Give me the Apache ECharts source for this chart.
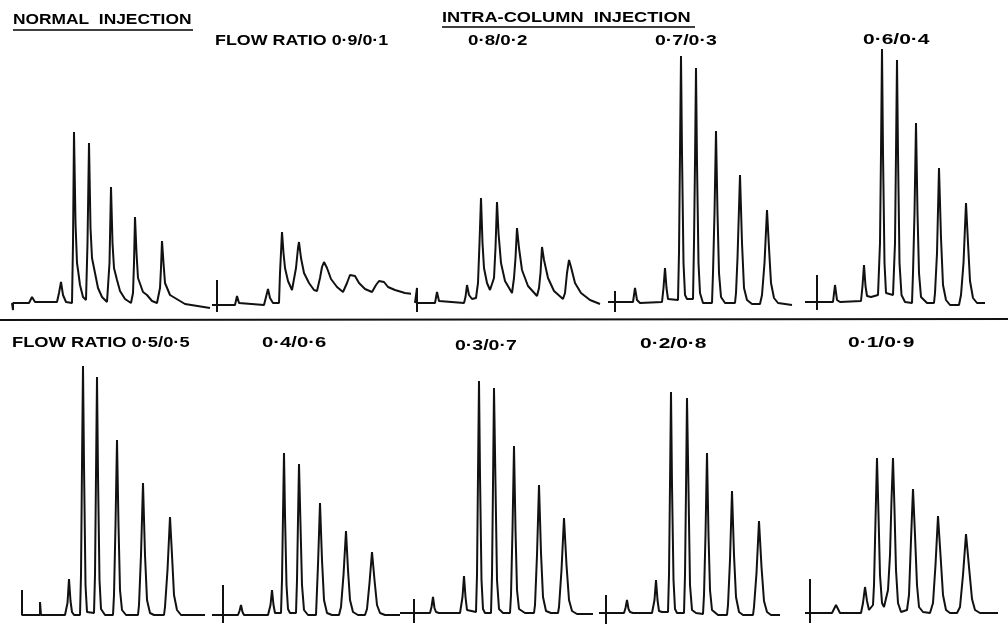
<!DOCTYPE html>
<html>
<head>
<meta charset="utf-8">
<title>Normal vs intra-column injection</title>
<script src="https://cdn.jsdelivr.net/npm/echarts@6/dist/echarts.min.js"></script>
<style>
  html, body { margin: 0; padding: 0; background: #fff; }
  #chart { width: 1008px; height: 625px; }
</style>
</head>
<body>
<div id="chart"></div>
<script>
// chromatogram traces, [time, detector signal]
// time = chart-paper units from the left of each panel, signal = height above baseline
var traceNormal = [[2,0],[3,0],[3,-7],[3,0],[19,0],[22,6],[25,1],[47,1],[49,10],[51,21],[53,8],[56,1],[62,0],[63,60],[64,171],[65.5,80],[67,40],[68,33],[70,18],[73,6],[76,3],[77.5,60],[79,160],[80.5,75],[82,45],[85,30],[88,15],[92,6],[97,1],[99.5,40],[101,116],[102.5,60],[104,35],[107,23],[110,12],[115,4],[121,0],[123,10],[124,40],[125,86],[126.5,50],[128,25],[133,11],[137,8],[142,2],[147,0],[150,15],[151,35],[152,62],[153.5,40],[155,20],[160,8],[165,5],[175,-1],[200,-5]];
var trace91 = [[2,-2],[7,-2],[7,23],[7,-9],[7,-2],[25,-2],[27,7],[29,0],[31,-2],[54,-2],[56,0],[58,14],[60,5],[63,0],[69,0],[70,30],[72,71],[73.5,50],[75,35],[78,22],[82,13],[86,35],[88,55],[89,61],[91,45],[94,30],[99,20],[104,13],[107,12],[110,25],[112,36],[114,41],[117,35],[121,24],[127,16],[133,11],[137,20],[140,28],[142,30],[145,27],[149,20],[155,14],[162,11],[166,18],[169,22],[171,23],[174,21],[178,16],[185,13],[195,10],[202,9]];
var trace82 = [[15,0],[17,0],[17,15],[17,-9],[17,0],[35,0],[37,11],[39,2],[41,0],[64,0],[65.5,6],[67,18],[69,8],[72,4],[76,5],[78,20],[79.5,60],[81,105],[82.5,60],[84,35],[87,20],[90,13],[94,25],[95.5,55],[97,101],[98.5,70],[101,40],[105,22],[112,10],[114,25],[115.5,45],[117,75],[119,55],[122,33],[128,17],[137,7],[139,15],[140.5,30],[142,56],[144,43],[148,25],[154,12],[163,4],[165,10],[167,30],[169,43],[171,36],[175,20],[181,10],[190,3],[200,-1]];
var trace73 = [[8,1],[15,1],[15,12],[15,-9],[15,1],[33,1],[35,15],[37,3],[40,0],[62,1],[63.5,15],[65,35],[66.5,15],[68,4],[70,3],[78,3],[79,50],[80,150],[81,247],[82,150],[83.5,40],[85,8],[87,4],[93,4],[94,60],[95,140],[96,235],[97,140],[98.5,40],[100,10],[103,0],[112,0],[113,30],[114.5,90],[116,172],[117.5,90],[119,30],[121,6],[125,0],[135,0],[136,10],[137.5,45],[140,128],[142,60],[144,15],[147,3],[152,-1],[160,-1],[162,8],[164.5,40],[167,93],[169,55],[171,20],[174,5],[178,0],[192,-2]];
var trace64 = [[5,1],[17,1],[17,28],[17,-7],[17,1],[33,1],[35,18],[37,3],[40,1],[61,2],[62.5,17],[64,38],[65.5,17],[67,7],[71,6],[78,8],[80,60],[81,150],[82,254],[83,150],[84.5,40],[86,10],[88,8],[93,8],[95,60],[96,150],[97,243],[98,150],[99.5,40],[101.5,8],[105,1],[112,0],[113,30],[114.5,90],[116,180],[117.5,90],[119,30],[121,6],[127,0],[134,0],[135,10],[137,50],[139,135],[141,65],[143,18],[146,3],[150,-2],[159,-2],[161,8],[163.5,40],[166,100],[168,60],[170,22],[173,5],[177,0],[185,0]];
var trace55 = [[12,25],[12,0],[30,0],[30,13],[31,0],[55,0],[57.5,12],[59,36],[60.5,14],[62,3],[64,0],[70,0],[71,40],[72,150],[73,249],[74,150],[75.5,30],[77,3],[84,2],[85,40],[86,140],[87,238],[88,140],[89.5,35],[91,6],[95,0],[103,0],[104,20],[105.5,90],[107,175],[108.5,90],[110,25],[112,5],[116,0],[128,0],[129,10],[131,60],[133,132],[135,60],[137,15],[140,2],[144,0],[154,0],[155,8],[157.5,45],[160,98],[162,60],[164,20],[167,5],[171,0],[195,0]];
var trace46 = [[7,0],[18,0],[18,30],[18,-8],[18,0],[33,0],[34.5,4],[36,10],[37.5,3],[39,0],[63,0],[65.5,10],[67,25],[68.5,10],[70,2],[76,2],[77,35],[78,100],[79,162],[80,100],[81.5,30],[83,6],[85,2],[91,2],[92,35],[93,95],[94,151],[95.5,90],[97,30],[99,5],[103,0],[111,0],[113,50],[115,112],[117,55],[119,15],[122,2],[127,0],[134,0],[136,8],[138.5,40],[141,84],[143,45],[145,15],[148,3],[153,0],[160,0],[162,6],[164.5,32],[167,63],[169.5,35],[172,10],[175,2],[180,0],[195,0]];
var trace37 = [[5,2],[19,2],[19,16],[19,-8],[19,2],[35,2],[36.5,8],[38,18],[39.5,7],[41,3],[44,2],[65,2],[67.5,18],[69,39],[70.5,18],[72,5],[74,3],[81,3],[82,40],[83,140],[84,234],[85,140],[86.5,35],[88,6],[90,2],[96,2],[97,40],[98,130],[99,227],[100.5,130],[102,35],[104,6],[108,2],[115,2],[116,20],[117.5,85],[119,169],[120.5,85],[122,25],[124,6],[130,2],[139,2],[140,10],[142,60],[144,130],[146,62],[148,18],[151,4],[156,2],[163,2],[164,8],[166.5,45],[169,97],[171.5,50],[174,15],[177,4],[182,1],[198,1]];
var trace28 = [[9,2],[16,2],[16,20],[16,-9],[16,2],[34,2],[35.5,7],[37,15],[38.5,6],[40,3],[43,2],[62,2],[64.5,15],[66,35],[67.5,15],[69,4],[72,3],[78,3],[79,40],[80,130],[81,223],[82,130],[83.5,35],[85,6],[87,2],[94,2],[95,40],[96,125],[97,217],[98.5,125],[100,30],[102,5],[106,2],[113,1],[114,20],[115.5,80],[117,162],[118.5,80],[120,25],[122,5],[128,0],[137,0],[138,10],[140,55],[142,124],[144,60],[146,18],[149,3],[153,0],[163,0],[164,8],[166.5,42],[169,94],[171.5,48],[174,14],[177,3],[181,0],[190,0]];
var trace19 = [[5,2],[10,2],[10,36],[10,-8],[10,2],[32,2],[34,6],[36,10],[38,6],[40,2],[61,2],[63,12],[65,28],[67,14],[69,5],[71,3],[73,10],[74,30],[75.5,95],[77,157],[78.5,100],[80,40],[82,12],[84,8],[86,10],[88,25],[90,60],[91.5,115],[93,157],[94.5,105],[96,45],[98,12],[101,3],[103,2],[107,5],[109,20],[111,75],[113,126],[115,80],[117,30],[119,8],[123,3],[130,2],[133,12],[135.5,50],[138,99],[140.5,60],[143,20],[146,5],[150,2],[157,2],[160,8],[163,40],[166,81],[169,48],[172,16],[175,5],[180,2],[198,2]];

var panelNames = ['NORMAL', '0.9/0.1', '0.8/0.2', '0.7/0.3', '0.6/0.4', '0.5/0.5', '0.4/0.6', '0.3/0.7', '0.2/0.8', '0.1/0.9'];
var panelTraces = [traceNormal, trace91, trace82, trace73, trace64, trace55, trace46, trace37, trace28, trace19];

// panel placement (left edge in px, row)
var panelLeft = [10, 210, 400, 600, 800, 10, 205, 395, 590, 800];
var panelRow = [0, 0, 0, 0, 0, 1, 1, 1, 1, 1];
var rows = [
    { top: 40, height: 275, min: -12, max: 263 },
    { top: 355, height: 268, min: -8, max: 260 }
];

var FONT = '"Liberation Sans", Arial, sans-serif';

// label text, x, y, font size, horizontal stretch
var labels = [
    ['NORMAL  INJECTION', 13, 20, 14, 1.24],
    ['FLOW RATIO 0\u00b79/0\u00b71', 215, 41, 15, 1.19],
    ['INTRA-COLUMN  INJECTION', 442, 18, 14, 1.3],
    ['0\u00b78/0\u00b72', 468, 41, 15, 1.25],
    ['0\u00b77/0\u00b73', 655, 41, 15, 1.3],
    ['0\u00b76/0\u00b74', 863, 40, 15, 1.4],
    ['FLOW RATIO 0\u00b75/0\u00b75', 12, 343, 15, 1.22],
    ['0\u00b74/0\u00b76', 262, 343, 15, 1.35],
    ['0\u00b73/0\u00b77', 455, 346, 15, 1.3],
    ['0\u00b72/0\u00b78', 640, 344, 15, 1.4],
    ['0\u00b71/0\u00b79', 848, 343, 15, 1.4]
];

var grids = [], xAxes = [], yAxes = [], series = [];
for (var i = 0; i < panelTraces.length; i++) {
    var r = rows[panelRow[i]];
    grids.push({ left: panelLeft[i], top: r.top, width: 200, height: r.height });
    xAxes.push({ type: 'value', gridIndex: i, min: 0, max: 200, show: false });
    yAxes.push({ type: 'value', gridIndex: i, min: r.min, max: r.max, show: false });
    series.push({
        name: panelNames[i],
        type: 'line',
        xAxisIndex: i,
        yAxisIndex: i,
        data: panelTraces[i],
        symbol: 'none',
        clip: false,
        lineStyle: { color: '#111', width: 2 }
    });
}

var graphics = [];
for (var j = 0; j < labels.length; j++) {
    var l = labels[j];
    graphics.push({
        type: 'text',
        x: l[1],
        y: l[2],
        scaleX: l[4],
        style: {
            text: l[0],
            font: 'bold ' + l[3] + 'px ' + FONT,
            fill: '#000',
            align: 'left',
            verticalAlign: 'middle',
            textAlign: 'left',
            textVerticalAlign: 'middle'
        }
    });
}
// underlines of the two headings and the rule between the rows
graphics.push({ type: 'line', shape: { x1: 13, y1: 30, x2: 193, y2: 30 }, style: { stroke: '#000', lineWidth: 1.5 } });
graphics.push({ type: 'line', shape: { x1: 442, y1: 27, x2: 695, y2: 27 }, style: { stroke: '#000', lineWidth: 1.5 } });
graphics.push({ type: 'line', shape: { x1: 0, y1: 320, x2: 1008, y2: 319 }, style: { stroke: '#111', lineWidth: 2 } });

var chart = echarts.init(document.getElementById('chart'));
chart.setOption({
    animation: false,
    backgroundColor: '#fff',
    grid: grids,
    xAxis: xAxes,
    yAxis: yAxes,
    series: series,
    graphic: graphics
});
</script>
</body>
</html>
